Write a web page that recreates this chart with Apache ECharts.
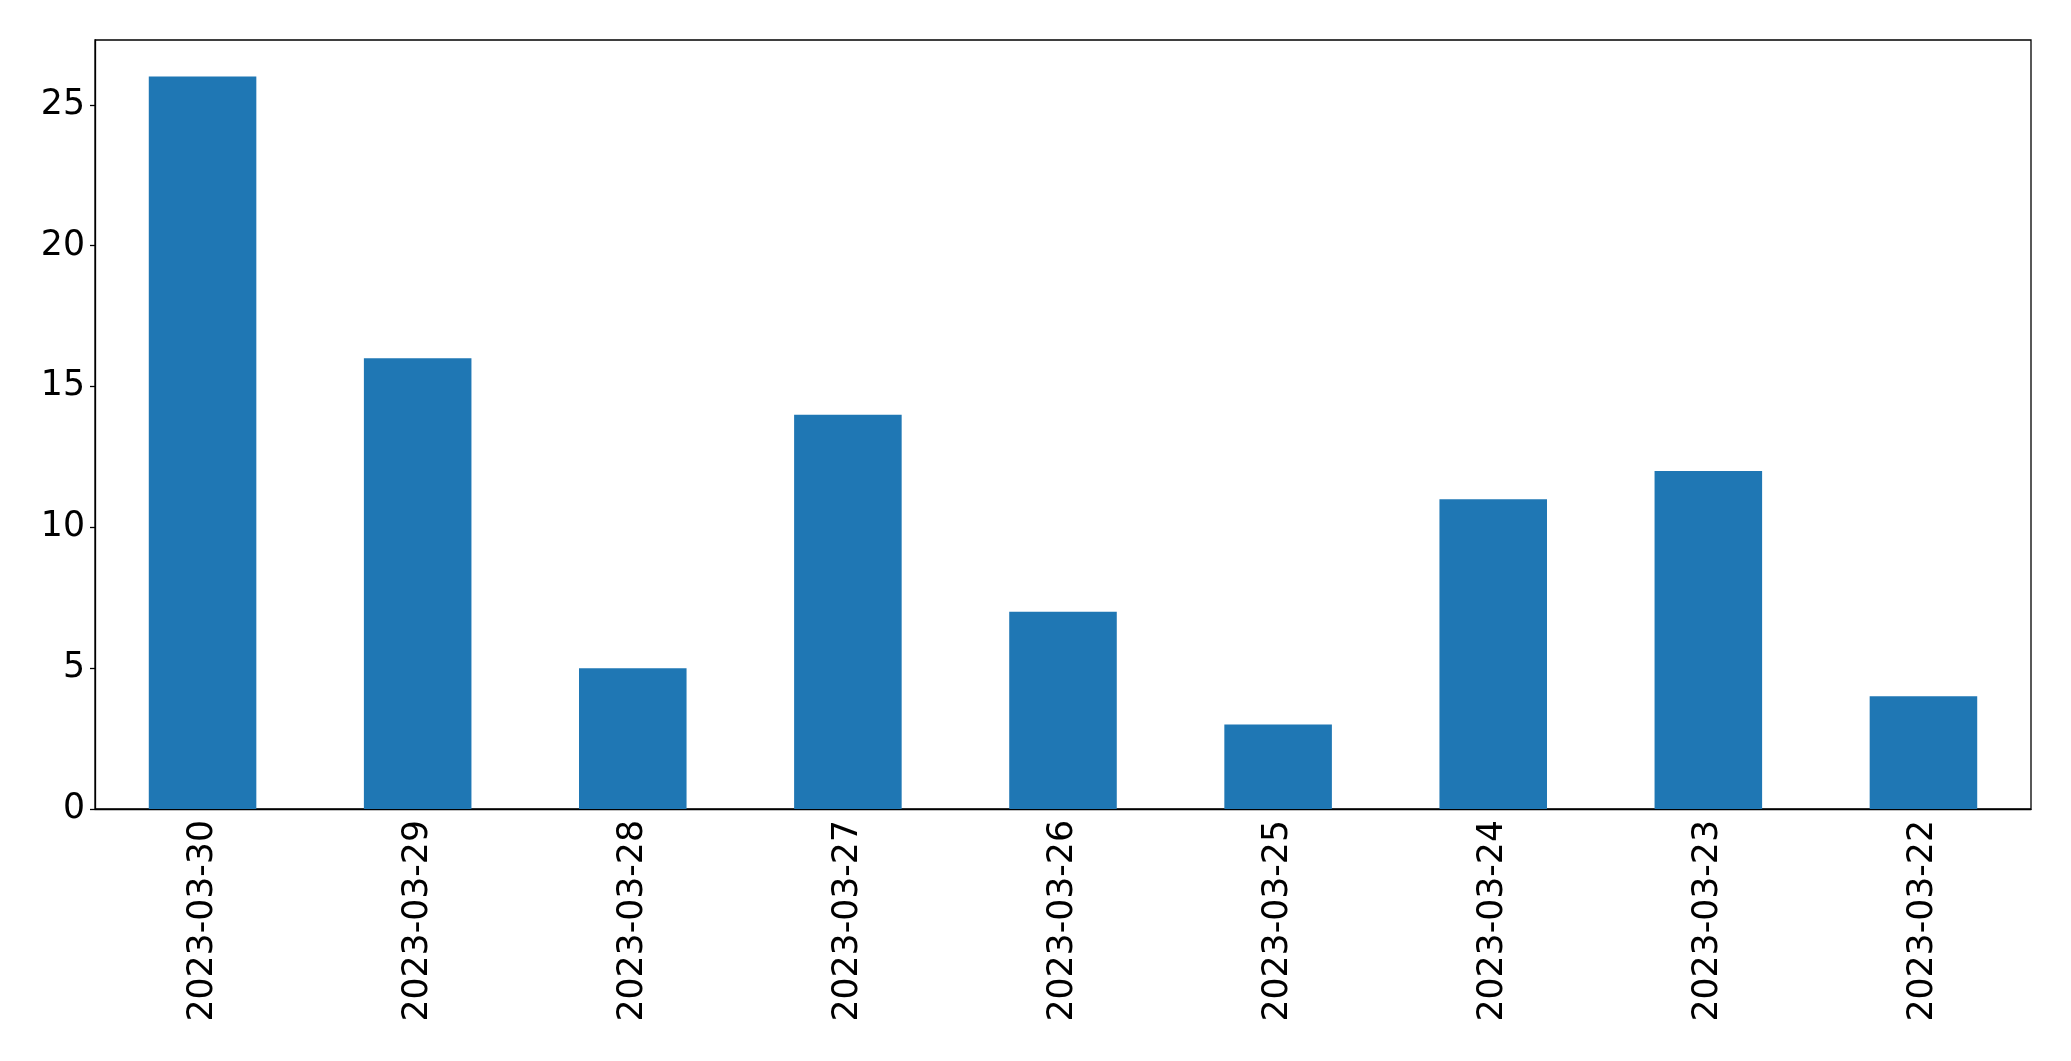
<!DOCTYPE html>
<html>
<head>
<meta charset="utf-8">
<script src="https://cdn.jsdelivr.net/npm/echarts@6/dist/echarts.min.js"></script>
<style>
html,body{margin:0;padding:0;background:#fff;}
#chart{width:2071px;height:1061px;}
</style>
</head>
<body>
<div id="chart"></div>
<script>
const categories = ['2023-03-30','2023-03-29','2023-03-28','2023-03-27','2023-03-26','2023-03-25','2023-03-24','2023-03-23','2023-03-22'];
const values = [26,16,5,14,7,3,11,12,4];
const yTicks = [0,5,10,15,20,25];

const chart = echarts.init(document.getElementById('chart'), null, {renderer:'canvas'});
const font = 'DejaVu Sans';
chart.setOption({
  animation:false,
  backgroundColor:'#fff',
  grid:{left:95,right:40,top:40,bottom:252,show:true,borderColor:'#000',borderWidth:1.3,containLabel:false},
  xAxis:{
    type:'category',
    data:categories,
    axisLine:{lineStyle:{color:'#000',width:1.3}},
    axisTick:{alignWithLabel:true,length:5,lineStyle:{color:'#000',width:1.3}},
    axisLabel:{rotate:90,fontFamily:font,fontSize:34.7,color:'#000',margin:11,interval:0}
  },
  yAxis:{
    type:'value',
    min:0,max:27.3,interval:5,
    splitLine:{show:false},
    axisLine:{show:true,lineStyle:{color:'#000',width:1.3}},
    axisTick:{show:true,length:5,customValues:yTicks,lineStyle:{color:'#000',width:1.3}},
    axisLabel:{fontFamily:font,fontSize:34.7,color:'#000',margin:10,customValues:yTicks,
      formatter:function(v){return yTicks.indexOf(v)>=0?String(v):'';}}
  },
  series:[{type:'bar',data:values,barWidth:'50%',itemStyle:{color:'#1f77b4'}}]
});
</script>
</body>
</html>
